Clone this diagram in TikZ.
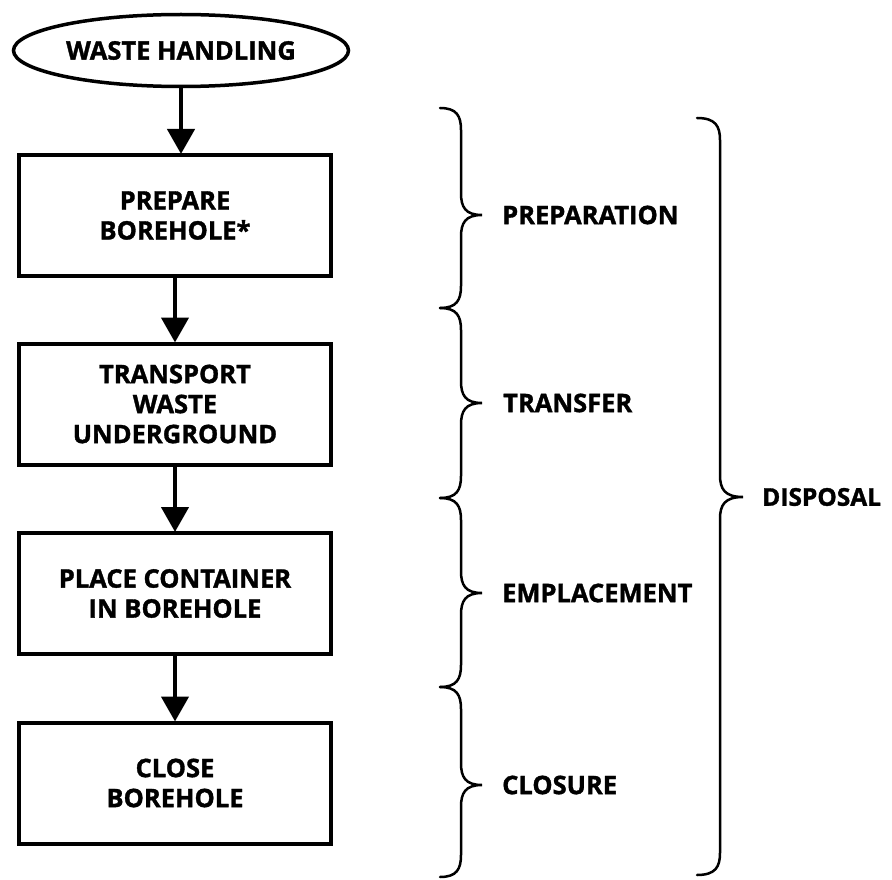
\documentclass[tikz,border=0pt]{standalone}
\usepackage{fontspec}
\setmainfont{Open Sans}[BoldFeatures={FakeBold=1.3}]
\usetikzlibrary{arrows.meta,shapes.geometric}
\newcommand\lbltxt{\fontsize{25.5}{30}\selectfont\bfseries}
\tikzset{
  stepbox/.style={draw, line width=4pt, minimum width=312pt, minimum height=121pt,
    inner sep=0pt, align=center, font=\lbltxt},
  startoval/.style={draw, ellipse, line width=3.5pt, minimum width=335pt, minimum height=72pt,
    inner sep=0pt, font=\lbltxt},
  flowarrow/.style={line width=4.5pt, -{Triangle[width=27pt,length=25pt]}, shorten >=-1pt},
  bracestyle/.style={line width=2.5pt, line cap=round},
  phaselabel/.style={anchor=west, inner sep=0pt, font=\lbltxt}
}
% #1 x of ends, #2 top y, #3 tip y, #4 bottom y, #5 half depth
\newcommand\drawbrace[5]{%
  \draw[bracestyle] (#1,#2) .. controls (#1+0.8*#5,#2) and (#1+#5,#2+8) .. (#1+#5,#2+22)
    -- (#1+#5,#3-22) .. controls (#1+#5,#3-8) and (#1+1.2*#5,#3) .. (#1+2*#5,#3)
    .. controls (#1+1.2*#5,#3) and (#1+#5,#3+8) .. (#1+#5,#3+22)
    -- (#1+#5,#4-22) .. controls (#1+#5,#4-8) and (#1+0.8*#5,#4) .. (#1,#4);}
\begin{document}
\begin{tikzpicture}[x=1pt, y=-1pt]
  \useasboundingbox (0,0) rectangle (892,880);
  \node[startoval] (e) at (181,50.5) {WASTE HANDLING};
  \node[stepbox] (b1) at (175,215.5) {PREPARE\\BOREHOLE*};
  \node[stepbox] (b2) at (175,404) {TRANSPORT\\WASTE\\UNDERGROUND};
  \node[stepbox] (b3) at (175,593.5) {PLACE CONTAINER\\IN BOREHOLE};
  \node[stepbox] (b4) at (175,783) {CLOSE\\BOREHOLE};
  \draw[flowarrow] (e.south) -- (e.south |- b1.north);
  \draw[flowarrow] (b1.south) -- (b2.north);
  \draw[flowarrow] (b2.south) -- (b3.north);
  \draw[flowarrow] (b3.south) -- (b4.north);
  \drawbrace{440}{108}{215}{308}{21}
  \drawbrace{440}{308}{403}{498}{21}
  \drawbrace{440}{498}{593}{687}{21}
  \drawbrace{440}{687}{785}{877}{21}
  \drawbrace{697}{118}{497}{875}{23}
  \node[phaselabel] (l1) at (502,215) {PREPARATION};
  \node[phaselabel] (l2) at (503,403) {TRANSFER};
  \node[phaselabel] (l3) at (502,593) {EMPLACEMENT};
  \node[phaselabel] (l4) at (502,785) {CLOSURE};
  \node[phaselabel, font=\fontsize{24.5}{30}\selectfont\bfseries] (l5) at (762,497) {DISPOSAL};
\end{tikzpicture}
\end{document}
